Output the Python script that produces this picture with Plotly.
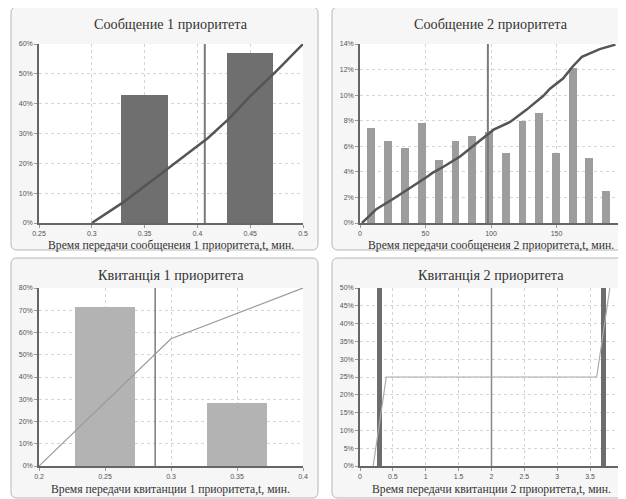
import plotly.graph_objects as go

# page body has an 8px margin, so the figure is offset by 8px in the window
OFF = 8
W, H = 626 - OFF, 499 - OFF

# ---------- data ----------
p1_titles = "Сообщение 1 приоритета"
p1_xtitle = "Время передачи сообщенеия 1 приоритета,t, мин."
p1_bar_x = [0.35, 0.45]
p1_bar_y = [43, 57]
p1_cdf_x = [0.3, 0.33, 0.36, 0.4, 0.41, 0.43, 0.45, 0.475, 0.5]
p1_cdf_y = [0, 7, 15, 26, 28.5, 35, 42.5, 51, 60]
p1_mean = 0.407

p2_title = "Сообщение 2 приоритета"
p2_xtitle = "Время передачи сообщенеия 2 приоритета,t, мин."
p2_bar_x = [8.5, 21.3, 34.3, 47.4, 60.1, 72.8, 85.5, 98.6, 111.5, 124, 136.7, 149.4, 162.4, 175, 187.8]
p2_bar_y = [7.4, 6.4, 5.9, 7.8, 4.9, 6.4, 6.8, 7.1, 5.5, 8.0, 8.6, 5.5, 12.1, 5.1, 2.5]
p2_cdf_x = [1.5, 12.7, 25.5, 38, 51, 55, 63.7, 76.4, 89, 102, 114.6, 121, 127, 140, 145, 155, 162, 169.4, 176, 183, 195]
p2_cdf_y = [0, 1.1, 1.9, 2.7, 3.6, 3.9, 4.4, 5.2, 6.2, 7.3, 7.9, 8.4, 8.85, 9.95, 10.5, 11.3, 12.2, 13.0, 13.3, 13.6, 13.95]
p2_mean = 97.6

p3_title = "Квитанція 1 приоритета"
p3_xtitle = "Время передачи квитанции 1 приоритета,t, мин."
p3_bar_x = [0.25, 0.35]
p3_bar_y = [71.3, 28.5]
p3_cdf_x = [0.2, 0.3, 0.4]
p3_cdf_y = [0, 57.2, 80]
p3_mean = 0.288

p4_title = "Квитанція 2 приоритета"
p4_xtitle = "Время передачи квитанции 2 приоритета,t, мин."
p4_bar_x = [0.3, 3.7]
p4_bar_y = [50, 50]
p4_cdf_x = [0.2, 0.4, 3.6, 3.8]
p4_cdf_y = [0, 25, 25, 50]
p4_mean = 2.0

# ---------- layout helpers (window pixel coords -> paper) ----------
def px_x(v):
    return (v - OFF) / W

def px_y(v):
    return 1 - (v - OFF) / H

panels = [
    dict(x0=39, x1=303, y0=44, y1=223, box=(11, 7, 318, 250), title=p1_titles, xt=p1_xtitle,
         ty=24, xty=245, xr=[0.25, 0.5], yr=[0, 60], dtx=0.05, dty=10,
         bx=p1_bar_x, by=p1_bar_y, bw=0.044, bc="#6f6f6f",
         cx=p1_cdf_x, cy=p1_cdf_y, cc="#555555", cw=2.5, mean=p1_mean, mc="#7a7a7a", mw=2),
    dict(x0=360, x1=622, y0=44, y1=223, box=(332, 7, 660, 250), title=p2_title, xt=p2_xtitle,
         ty=24, xty=245, xr=[0, 200], yr=[0, 14], dtx=50, dty=2,
         bx=p2_bar_x, by=p2_bar_y, bw=5.9, bc="#9d9d9d",
         cx=p2_cdf_x, cy=p2_cdf_y, cc="#555555", cw=2.5, mean=p2_mean, mc="#7a7a7a", mw=2),
    dict(x0=39, x1=303, y0=288, y1=466, box=(11, 258, 318, 498), title=p3_title, xt=p3_xtitle,
         ty=275, xty=489, xr=[0.2, 0.4], yr=[0, 80], dtx=0.05, dty=10,
         bx=p3_bar_x, by=p3_bar_y, bw=0.045, bc="#b3b3b3",
         cx=p3_cdf_x, cy=p3_cdf_y, cc="#9a9a9a", cw=1.2, mean=p3_mean, mc="#7a7a7a", mw=1.5),
    dict(x0=360, x1=623, y0=288, y1=466, box=(332, 258, 660, 498), title=p4_title, xt=p4_xtitle,
         ty=275, xty=489, xr=[0, 4], yr=[0, 50], dtx=0.5, dty=5,
         bx=p4_bar_x, by=p4_bar_y, bw=0.08, bc="#6d6d6d",
         cx=p4_cdf_x, cy=p4_cdf_y, cc="#aaaaaa", cw=1.2, mean=p4_mean, mc="#888888", mw=1.5),
]

fig = go.Figure()
shapes = []
annotations = []
layout = {}

def rounded_rect(x0, y0, x1, y1, r=6):
    rx, ry = r / W, r / H
    a, b, c, d = px_x(x0), px_y(y0), px_x(x1), px_y(y1)
    return (f"M {a+rx},{b} L {c-rx},{b} Q {c},{b} {c},{b-ry} L {c},{d+ry} Q {c},{d} {c-rx},{d} "
            f"L {a+rx},{d} Q {a},{d} {a},{d+ry} L {a},{b-ry} Q {a},{b} {a+rx},{b} Z")

for i, p in enumerate(panels, start=1):
    xa = "x" if i == 1 else f"x{i}"
    ya = "y" if i == 1 else f"y{i}"
    xk = "xaxis" if i == 1 else f"xaxis{i}"
    yk = "yaxis" if i == 1 else f"yaxis{i}"
    bx0, by0, bx1, by1 = p["box"]
    shapes.append(dict(type="path", xref="paper", yref="paper", layer="below",
                       path=rounded_rect(bx0, by0, bx1, by1),
                       fillcolor="#f6f6f6", line=dict(color="#b5b5b5", width=1)))
    shapes.append(dict(type="rect", xref="paper", yref="paper", layer="below",
                       x0=px_x(p["x0"]), x1=px_x(p["x1"]), y0=px_y(p["y1"]), y1=px_y(p["y0"]),
                       fillcolor="white", line=dict(width=0)))
    fig.add_trace(go.Bar(x=p["bx"], y=p["by"], width=p["bw"], marker=dict(color=p["bc"], line=dict(width=0)),
                         xaxis=xa, yaxis=ya, showlegend=False, hoverinfo="skip"))
    fig.add_trace(go.Scatter(x=[p["mean"], p["mean"]], y=[p["yr"][0], p["yr"][1]], mode="lines",
                             line=dict(color=p["mc"], width=p["mw"]),
                             xaxis=xa, yaxis=ya, showlegend=False, hoverinfo="skip"))
    fig.add_trace(go.Scatter(x=p["cx"], y=p["cy"], mode="lines",
                             line=dict(color=p["cc"], width=p["cw"]),
                             xaxis=xa, yaxis=ya, showlegend=False, hoverinfo="skip"))
    common = dict(showgrid=True, gridcolor="#d4d4d4", griddash="3px,3px", gridwidth=1,
                  zeroline=False, showline=True, linecolor="#666666", linewidth=1.5,
                  ticks="outside", ticklen=3, tickcolor="#999999", automargin=False,
                  tickfont=dict(family="Liberation Sans, Arial", size=7, color="#555555"),
                  fixedrange=True)
    layout[xk] = dict(domain=[px_x(p["x0"]), px_x(p["x1"])], range=p["xr"], dtick=p["dtx"],
                      tick0=p["xr"][0], anchor=ya, **common)
    layout[yk] = dict(domain=[px_y(p["y1"]), px_y(p["y0"])], range=p["yr"], dtick=p["dty"],
                      tick0=0, ticksuffix="%", anchor=xa, **common)
    cx = (p["x0"] + p["x1"]) / 2
    annotations.append(dict(text=p["title"], xref="paper", yref="paper", x=px_x(cx), y=px_y(p["ty"]),
                            xanchor="center", yanchor="middle", showarrow=False,
                            font=dict(family="Liberation Serif, Times New Roman", size=14.2, color="#333333")))
    annotations.append(dict(text=p["xt"], xref="paper", yref="paper", x=px_x(cx), y=px_y(p["xty"]),
                            xanchor="center", yanchor="middle", showarrow=False,
                            font=dict(family="Liberation Serif, Times New Roman", size=11.7, color="#333333")))

fig.update_layout(width=W, height=H, margin=dict(l=0, r=0, t=0, b=0),
                  paper_bgcolor="white", plot_bgcolor="rgba(0,0,0,0)",
                  shapes=shapes, annotations=annotations, bargap=0, **layout)

fig.write_html("out.html")
